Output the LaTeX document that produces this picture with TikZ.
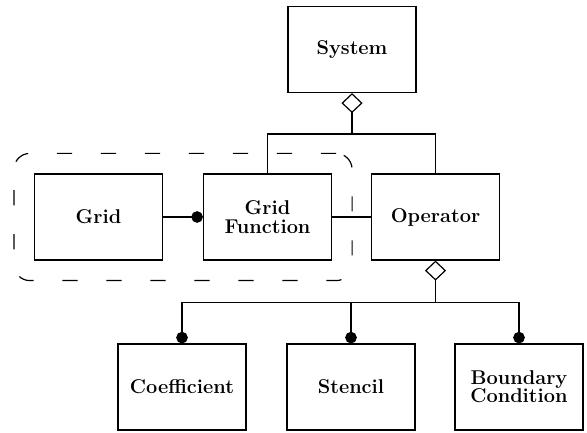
\documentclass[tikz,border=0pt]{standalone}
\usepackage{fontspec}
\usepackage{tikz}
\usetikzlibrary{arrows.meta, positioning, fit}

\begin{document}
\begin{tikzpicture}[
    font=\fontsize{14.2}{13}\selectfont\bfseries,
    cls/.style={draw, line width=0.85pt, align=center, inner sep=0pt,
                minimum width=3.2cm, minimum height=2.15cm},
    lnk/.style={line width=0.85pt},
    agg/.style={lnk, {Diamond[open, length=5mm, width=5.3mm]}-},
    dot/.style={lnk, -{Circle[length=2.9mm]}},
    pkg/.style={draw, line width=0.85pt, dash pattern=on 0.38cm off 0.72cm,
                rounded corners=0.4cm, inner sep=0.5cm}]

  \useasboundingbox (0,0) rectangle (14.675,10.8);

  \node[cls] (sys) at (8.8,9.5625) {System};

  \node[cls] (grid) at (2.4625,5.375) {Grid};
  \node[cls] (gf) at (6.6875,5.375) {Grid\\Function};
  \node[cls] (op) at (10.8875,5.375) {Operator};

  \node[cls] (coef) at (4.55,1.125) {Coefficient};
  \node[cls] (sten) at (8.775,1.125) {Stencil};
  \node[cls] (bc) at (12.975,1.125) {Boundary\\Condition};

  \node[pkg, fit=(grid)(gf)] (pk) {};

  % system aggregates grid function and operator
  \coordinate[below=1.025cm of sys] (j1);
  \draw[agg] (sys.south) -- (j1) -| (gf.north);
  \draw[lnk] (j1) -| (op.north);

  \draw[dot] (grid) -- (gf);
  \draw[lnk] (gf) -- (op);

  % operator parts
  \coordinate[below=1.05cm of op] (j2);
  \draw[agg] (op.south) -- (j2);
  \draw[dot] (j2) -| (coef.north);
  \draw[dot] (j2) -| (sten.north);
  \draw[dot] (j2) -| (bc.north);
\end{tikzpicture}
\end{document}
